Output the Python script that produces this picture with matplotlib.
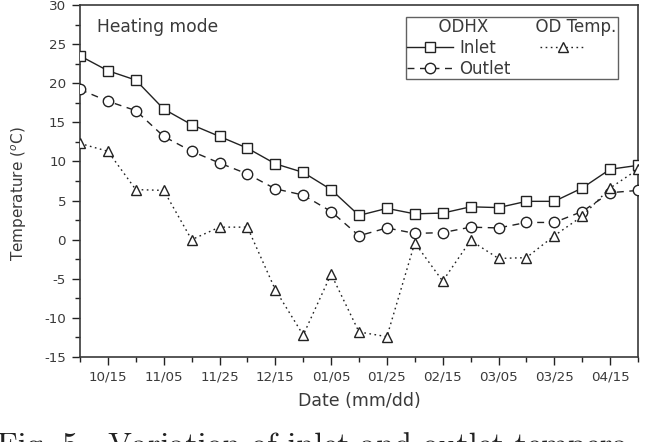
import matplotlib
matplotlib.use("Agg")
import matplotlib.pyplot as plt
from matplotlib.lines import Line2D
from matplotlib.ticker import MultipleLocator

# data (one point every ~10 days, index 0..20)
inlet = [23.5, 21.6, 20.4, 16.7, 14.7, 13.2, 11.7, 9.7, 8.6, 6.4, 3.1,
         4.0, 3.3, 3.4, 4.2, 4.1, 4.9, 4.9, 6.6, 9.0, 9.5]
outlet = [19.2, 17.7, 16.5, 13.2, 11.3, 9.8, 8.4, 6.5, 5.7, 3.6, 0.5,
          1.5, 0.8, 0.9, 1.6, 1.5, 2.2, 2.2, 3.6, 6.0, 6.3]
od_temp = [12.3, 11.3, 6.4, 6.3, 0.0, 1.6, 1.6, -6.4, -12.2, -4.4, -11.8,
           -12.4, -0.4, -5.3, -0.1, -2.4, -2.3, 0.5, 3.0, 6.6, 9.0]
tick_pos = [1, 3, 5, 7, 9, 11, 13, 15, 17, 19]
tick_labels = ['10/15', '11/05', '11/25', '12/15', '01/05',
               '01/25', '02/15', '03/05', '03/25', '04/15']

plt.rcParams['font.family'] = ['DejaVu Sans']
plt.rcParams['axes.unicode_minus'] = False

col = '#222222'
txt = '#3a3a3a'
fig = plt.figure(figsize=(6.48, 4.42), dpi=100)
ax = fig.add_axes([80 / 648, 1 - 357 / 442, 558 / 648, 352 / 442])

x = list(range(len(inlet)))
ms = 7
l_in, = ax.plot(x, inlet, '-', color=col, lw=1.0, marker='s', ms=ms,
                mfc='white', mec=col, mew=1.0, zorder=3)
l_out, = ax.plot(x, outlet, color=col, lw=1.0, ls=(0, (5, 4)), marker='o',
                 ms=ms + 0.5, mfc='white', mec=col, mew=1.0, zorder=3)
l_od, = ax.plot(x, od_temp, color=col, lw=1.0, ls=(0, (1.2, 2.5)), marker='^',
                ms=ms + 0.5, mfc='white', mec=col, mew=1.0, zorder=3)

ax.set_xlim(0, 20)
ax.set_ylim(-15, 30)
ax.set_xticks(tick_pos)
ax.set_xticklabels(tick_labels)
ax.xaxis.set_minor_locator(MultipleLocator(1))
ax.yaxis.set_major_locator(MultipleLocator(5))
ax.yaxis.set_minor_locator(MultipleLocator(2.5))
ax.tick_params(which='both', direction='out', color=col, width=1.0,
               labelsize=9.7, labelcolor=txt, top=False, right=False)
ax.tick_params(which='major', length=6, pad=4)
ax.tick_params(which='minor', length=3.5)
for s in ax.spines.values():
    s.set_linewidth(1.2)
    s.set_color(txt)

ax.set_xlabel('Date (mm/dd)', fontsize=12.5, color=txt, labelpad=6)
ax.set_ylabel('Temperature ($^o$C)', fontsize=11, color=txt)
ax.yaxis.set_label_coords(-0.0914, 0.464)
ax.text(0.030, 0.963, 'Heating mode', transform=ax.transAxes, fontsize=12.3,
        color=txt, va='top', ha='left')

blank = Line2D([], [], color='none')
leg = ax.legend([l_in, l_out, l_od, blank], ['Inlet', 'Outlet', ' ', ' '],
                ncol=2, loc='upper right', bbox_to_anchor=(0.9642, 0.966),
                title='      ODHX         OD Temp.', title_fontsize=12,
                fontsize=12, handlelength=2.75, handletextpad=0.36,
                columnspacing=1.75, labelspacing=0.17, borderpad=0.08,
                borderaxespad=0, frameon=True, fancybox=False,
                edgecolor=txt)
leg.get_frame().set_linewidth(1.0)
leg._legend_box.align = 'left'
for t in leg.get_texts():
    t.set_color(txt)
leg.get_title().set_color(txt)

fig.text(-0.005, 1 - 432 / 442, 'Fig. 5.  Variation of inlet and outlet tempera-',
         family='cmr10', fontsize=23, va='top', ha='left', color='#222222')

fig.savefig('out.png', dpi=100)
